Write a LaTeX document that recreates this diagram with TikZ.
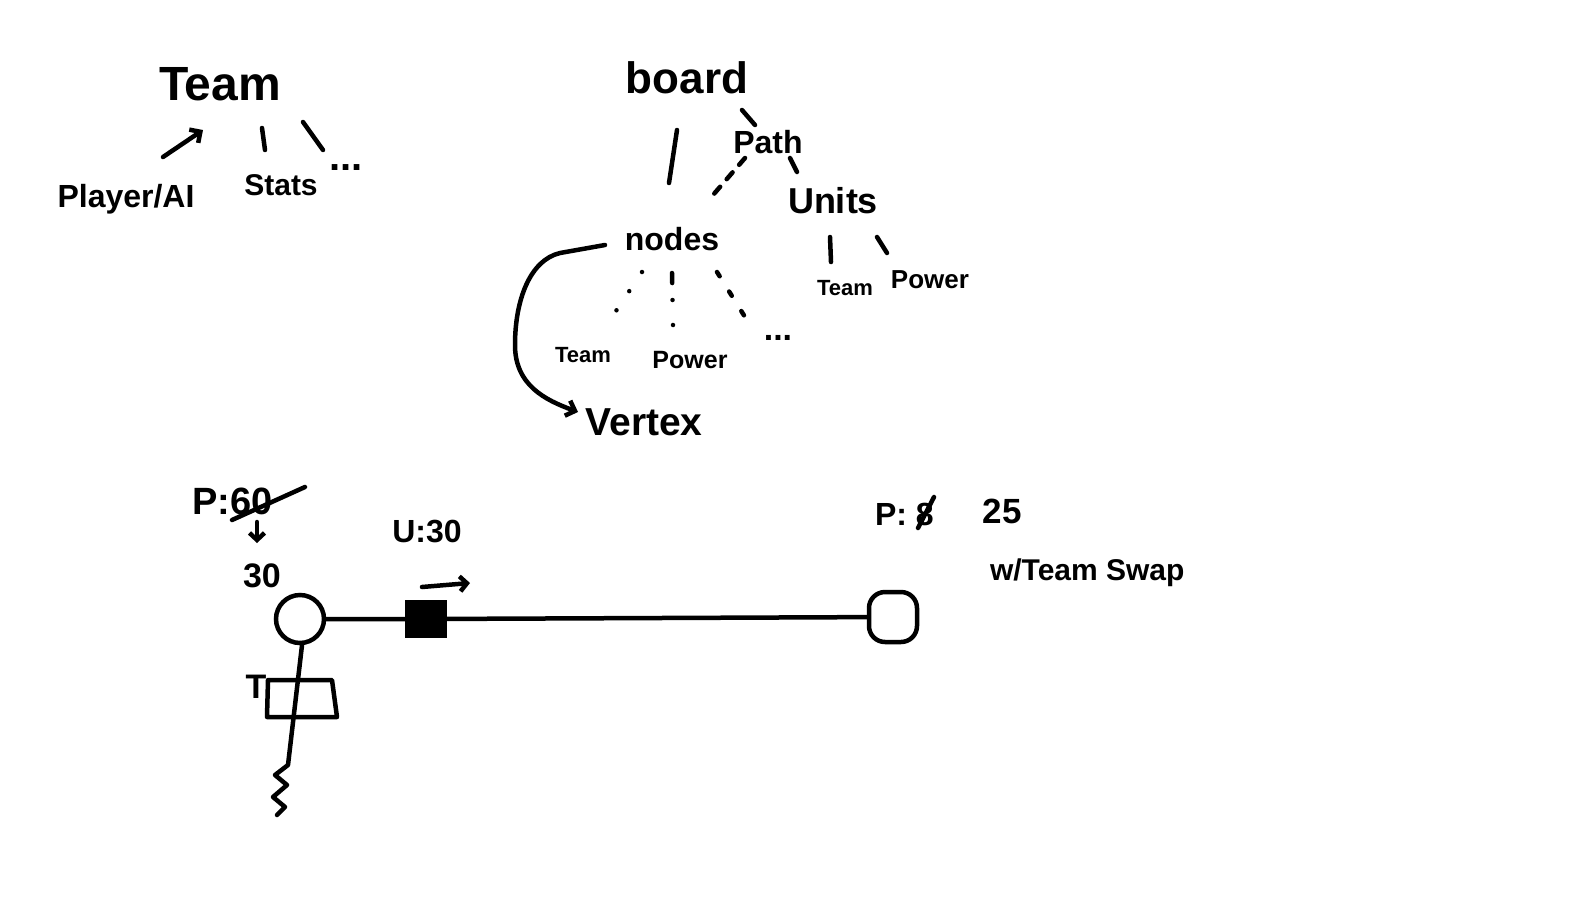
\documentclass[tikz,border=0pt]{standalone}
\usepackage{fontspec}
\setmainfont{Liberation Sans}
\usetikzlibrary{arrows.meta,calc}
\tikzset{
 lbl/.style={inner sep=0pt,outer sep=0pt,anchor=base},
 fs/.style={font=\fontsize{#1}{#1}\selectfont\bfseries},
 conn/.style={line width=4.5pt,line cap=round,line join=round},
 dotc/.style={conn,dash pattern=on 0pt off 23pt},
 dashc/.style={conn,dash pattern=on 9pt off 10pt},
 barb/.style={-{Straight Barb[length=8pt,width=16pt]}},
 smallbarb/.style={-{Straight Barb[length=7pt,width=15pt]}},
 blob/.style={draw,line width=4.5pt,inner sep=0pt},
}
\begin{document}
\begin{tikzpicture}[x=1pt,y=-1pt]
\useasboundingbox[fill=white] (0,0) rectangle (1577,903);
% top-left tree
\node[lbl,fs=48] (team) at (220,100) {Team};
\node[lbl,fs=32] (player) at (126,207) {Player/AI};
\node[lbl,fs=30] (stats) at (281,195) {Stats};
\node[lbl,fs=40] (tdots) at (346,170) {...};
\draw[conn,barb] ($(player.base)+(37,-50)$) -- ($(team.base)+(-17,30)$);
\draw[conn] ($(team.base)+(42,28)$) -- ($(stats.base)+(-16,-45)$);
\draw[conn] ($(team.base)+(83,22)$) -- ($(tdots.base)+(-23,-20)$);
% board tree
\node[lbl,fs=44] (board) at (687,93) {board};
\node[lbl,fs=32] (path) at (768,153) {Path};
\node[lbl,fs=36] (units) at (833,213) {Units};
\node[lbl,fs=32] (nodes) at (672,250) {nodes};
\node[lbl,fs=22] (uteam) at (845,295) {Team};
\node[lbl,fs=26] (upower) at (930,288) {Power};
\node[lbl,fs=22] (nteam) at (583,362) {Team};
\node[lbl,fs=25] (npower) at (690,368) {Power};
\node[lbl,fs=34] (ndots) at (778,340) {...};
\node[lbl,fs=39] (vertex) at (644,435) {Vertex};
\draw[conn] ($(board.base)+(55,17)$) -- ($(path.base)+(-13,-28)$);
\draw[conn] ($(board.base)+(-10,37)$) -- ($(nodes.base)+(-3,-67)$);
\draw[dashc] ($(path.base)+(-23,5)$) -- ($(nodes.base)+(41,-55)$);
\draw[conn] ($(path.base)+(22,5)$) -- ($(units.base)+(-36,-41)$);
\draw[conn] ($(units.base)+(-3,24)$) -- ($(uteam.base)+(-14,-33)$);
\draw[conn] ($(units.base)+(44,24)$) -- ($(upower.base)+(-43,-35)$);
\draw[dotc] ($(nodes.base)+(-30,22)$) -- ($(nteam.base)+(33,-51)$);
\draw[conn,dash pattern=on 10pt off 17pt on 0pt off 25pt] ($(nodes.base)+(0,23)$) -- ($(npower.base)+(-17,-43)$);
\draw[conn,dash pattern=on 5pt off 18pt] ($(nodes.base)+(45,22)$) -- ($(ndots.base)+(-33,-23)$);
\draw[conn,barb] ($(nodes.base)+(-67,-5)$) -- (560,253) .. controls (530,260) and (515,300) .. (515,345) .. controls (515,385) and (545,400) .. ($(vertex.base)+(-66,-23)$);
% bottom sketch
\node[lbl,fs=38,anchor=base west] (p1) at (192,514) {P:60};
\node[lbl,fs=34] (thirty) at (262,587) {30};
\node[lbl,fs=32] (u30) at (427,542) {U:30};
\node[lbl,fs=32,anchor=base west] (p2) at (875,525) {P: 8};
\node[lbl,fs=35] (p25) at (1002,523) {25};
\node[lbl,fs=30,anchor=base west] (swap) at (990,580) {w/Team Swap};
\node[lbl,fs=34] (tlbl) at (256,698) {T};
\draw[conn] ($(p1.base west)+(40,6)$) -- ($(p1.base west)+(113,-27)$);
\draw[conn,smallbarb] ($(p1.base west)+(65,8)$) -- ($(thirty.base)+(-5,-44)$);
\draw[conn] ($(p2.base west)+(43,3)$) -- ($(p2.base west)+(59,-28)$);
\node[blob,circle,minimum size=48pt] (n1) at (300,619) {};
\node[blob,rectangle,rounded corners=16pt,minimum width=48pt,minimum height=50pt] (n2) at (893,617) {};
\node[fill=black,rectangle,inner sep=0pt,minimum width=42pt,minimum height=38pt] (u) at (426,619) {};
\draw[conn] (n1) -- (u) -- (n2);
\draw[conn,smallbarb] ($(u)+(-4,-32)$) -- ($(u)+(44,-36)$);
\draw[conn] (268,680) -- (332,680) -- (337,717) -- (267,717) -- cycle;
\coordinate (zz) at (288,765);
\draw[conn] ($(n1.south)+(2,0)$) -- (zz) -- (275,775) -- (287,785) -- (273,797) -- (285,807) -- (277,815);
\end{tikzpicture}
\end{document}
